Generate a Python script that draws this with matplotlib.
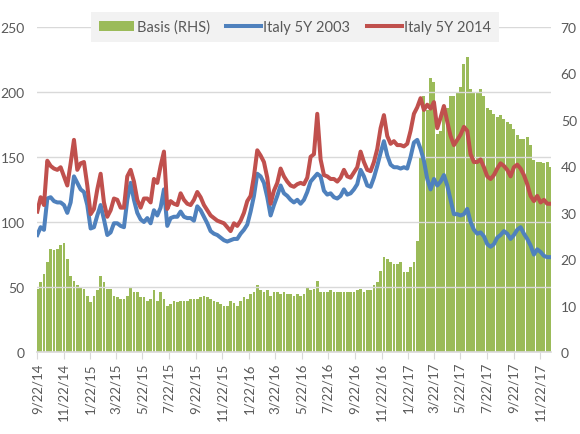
import matplotlib
matplotlib.use('Agg')
import matplotlib.pyplot as plt
import pandas as pd
from matplotlib.patches import Patch
from matplotlib.lines import Line2D

plt.rcParams['font.family'] = ['Lato', 'DejaVu Sans']

# ---------------- data ----------------
dates = pd.date_range('2014-09-22', '2017-12-16', periods=155)

italy_2014 = [108, 119, 113, 147, 143, 141, 140, 142, 135, 128, 145, 163, 140, 145, 146, 128, 106, 110, 125, 137,
              115, 104, 109, 118, 117, 111, 111, 135,
              140, 131, 117, 111, 118, 118, 115, 133, 130, 143, 154, 110, 116, 114, 113, 122, 117, 114, 113, 117,
              123, 119, 113, 109, 105, 103, 101, 100, 99, 96,
              93, 99, 97, 101, 107, 116, 120, 135, 155, 151, 146, 134, 114, 124, 130, 141, 135, 131, 128, 127, 129,
              130, 129, 134, 150, 152, 183, 148, 136, 135, 133, 133, 131, 134, 140, 135, 134, 138, 142, 154, 146,
              140, 139, 146, 156, 172, 182, 166, 160, 162, 159, 159, 158, 160, 170, 183, 188,
              195, 186, 190, 187, 192, 172, 180, 189, 177, 166, 159, 163, 167, 173, 170, 152, 146, 146, 148, 142,
              135, 133, 136, 141, 145, 143, 140, 135, 142, 144, 141, 136, 129, 120, 116, 120, 115, 117, 114, 114]

italy_2003 = [90, 96, 94, 118, 119, 116, 115, 115, 113, 107, 115, 135, 130, 125, 123, 113, 95, 96, 105, 113,
              102, 90, 92, 99, 99, 97, 96, 117,
              130, 117, 107, 102, 100, 103, 99, 109, 105, 111, 125, 97, 103, 104, 104, 108, 104, 103, 103, 101,
              112, 109, 104, 99, 93, 91, 90, 88, 86, 85,
              86, 87, 87, 91, 94, 98, 108, 120, 137, 135, 130, 119, 105, 113, 120, 128, 122, 120, 117, 115, 117,
              114, 117, 123, 131, 134, 137, 135, 124, 121, 122, 119, 118, 120, 125, 121, 122, 125, 129, 140, 135,
              128, 127, 134, 143, 153, 162, 151, 144, 142, 142, 141, 142, 141, 150, 161, 163,
              156, 147, 133, 125, 133, 128, 131, 136, 128, 117, 106, 106, 105, 106, 110, 100, 94, 91, 92, 89,
              83, 81, 83, 88, 90, 93, 91, 87, 90, 94, 96, 91, 87, 82, 75, 79, 77, 74, 73, 73]

basis = [13.6, 15.0, 16.8, 19.5, 22.3, 21.9, 22.3, 23.0, 23.5, 20.0, 16.5, 15.4, 14.4, 14.0, 13.6, 12.2, 10.8,
         12.2, 13.3, 16.5, 15.2, 13.6, 13.6, 12.2, 11.8, 11.5, 11.5, 12.2, 14.0, 12.9, 12.9, 11.8, 11.8, 11.1,
         11.5, 13.3, 11.1,
         13.0, 11.5, 10.0, 10.4, 11.1, 10.8, 11.1, 11.1, 11.1, 11.5, 11.5, 11.5, 11.8, 12.2, 11.8, 11.5, 11.1,
         10.8, 10.4, 10.0, 10.0, 11.1, 10.6, 10.0, 11.1, 11.8, 11.5, 12.6, 12.9, 14.5, 13.3, 12.9, 13.3, 12.2,
         12.9, 12.9, 12.6, 12.9, 12.6, 12.6, 12.2, 12.6,
         12.2, 12.6, 14.0, 13.3, 13.6, 15.4, 12.9, 12.9, 12.9, 13.3, 12.9, 12.9, 12.9, 12.9, 12.9, 12.9, 12.9,
         13.3, 13.6, 12.9, 13.3, 13.3, 14.4, 15.1, 17.5, 20.5, 20.0, 19.4, 19.0, 19.0, 19.4, 17.2, 17.2, 18.3,
         19.5, 24.0,
         42, 55, 52, 59, 58, 47, 47.5, 51.5, 52.5, 55, 55, 56, 57, 62, 63.5, 56.5, 56, 56, 56.5, 55, 52.4, 52,
         51.3, 50.5, 51, 50.2, 49.5, 49, 48, 46.7, 45.9, 45.9, 46.3, 44.5, 41.3, 40.9, 40.9, 40.6, 40.9, 39.8]

tick_labels = ['9/22/14', '11/22/14', '1/22/15', '3/22/15', '5/22/15', '7/22/15', '9/22/15', '11/22/15',
               '1/22/16', '3/22/16', '5/22/16', '7/22/16', '9/22/16', '11/22/16', '1/22/17', '3/22/17',
               '5/22/17', '7/22/17', '9/22/17', '11/22/17']
left_ticks = [0, 50, 100, 150, 200, 250]
right_ticks = [0, 10, 20, 30, 40, 50, 60, 70]

series_names = ['Basis (RHS)', 'Italy 5Y 2003', 'Italy 5Y 2014']

# ---------------- style ----------------
GREEN = '#9BBB59'
BLUE = '#4F81BD'
RED = '#C0504D'
TXT = '#595959'
GRID = '#D9D9D9'

fig = plt.figure(figsize=(5.8, 4.35), dpi=100)
ax = fig.add_axes([37.3 / 580, 1 - 353.3 / 435, (551 - 37.3) / 580, (353.3 - 27.5) / 435])
ax2 = ax.twinx()

ax.set_zorder(2)
ax.patch.set_visible(False)
ax2.set_zorder(1)

step = (dates[1] - dates[0]).days + (dates[1] - dates[0]).seconds / 86400
ax2.bar(dates, basis, width=step * 0.85, color=GREEN, linewidth=0, align='center')

ax.plot(dates, italy_2003, color=BLUE, lw=2.9, solid_joinstyle='round')
ax.plot(dates, italy_2014, color=RED, lw=2.9, solid_joinstyle='round')

tick_pos = pd.to_datetime(tick_labels, format='%m/%d/%y')
ax.set_xticks(tick_pos)
ax.set_xticklabels(tick_labels)
ax.set_xlim(pd.Timestamp('2014-09-22'), pd.Timestamp('2014-09-22') + pd.Timedelta(days=1182))

ax.set_ylim(0, 250)
ax.set_yticks(left_ticks)
ax2.set_ylim(0, 70)
ax2.set_yticks(right_ticks)

ax.grid(axis='y', color=GRID, lw=1)
ax.set_axisbelow(True)

for a in (ax, ax2):
    for s in ('top', 'left', 'right'):
        a.spines[s].set_visible(False)
ax2.spines['bottom'].set_visible(False)
ax.spines['bottom'].set_color(GRID)
ax.spines['bottom'].set_linewidth(1.2)

ax.tick_params(axis='x', direction='out', length=5, color=GRID, labelrotation=90,
               labelsize=9.5, labelcolor=TXT, pad=2)
ax.tick_params(axis='y', length=0, labelsize=10, labelcolor=TXT, pad=9)
ax2.tick_params(axis='y', length=0, labelsize=10, labelcolor=TXT, pad=7)

handles = [Patch(facecolor=GREEN, edgecolor='none'),
           Line2D([0], [0], color=BLUE, lw=2.9),
           Line2D([0], [0], color=RED, lw=2.9)]
leg = fig.legend(handles, series_names, loc='center', bbox_to_anchor=(295 / 580, 1 - 28 / 435),
                 ncol=3, frameon=True, fontsize=10.5, handlelength=2.4, handletextpad=0.2,
                 columnspacing=1.1, borderpad=0.55, fancybox=False)
leg.get_frame().set_facecolor('#F2F2F2')
leg.get_frame().set_edgecolor('none')
leg.get_frame().set_alpha(1)
for t in leg.get_texts():
    t.set_color(TXT)

fig.savefig('out.png', dpi=100)
